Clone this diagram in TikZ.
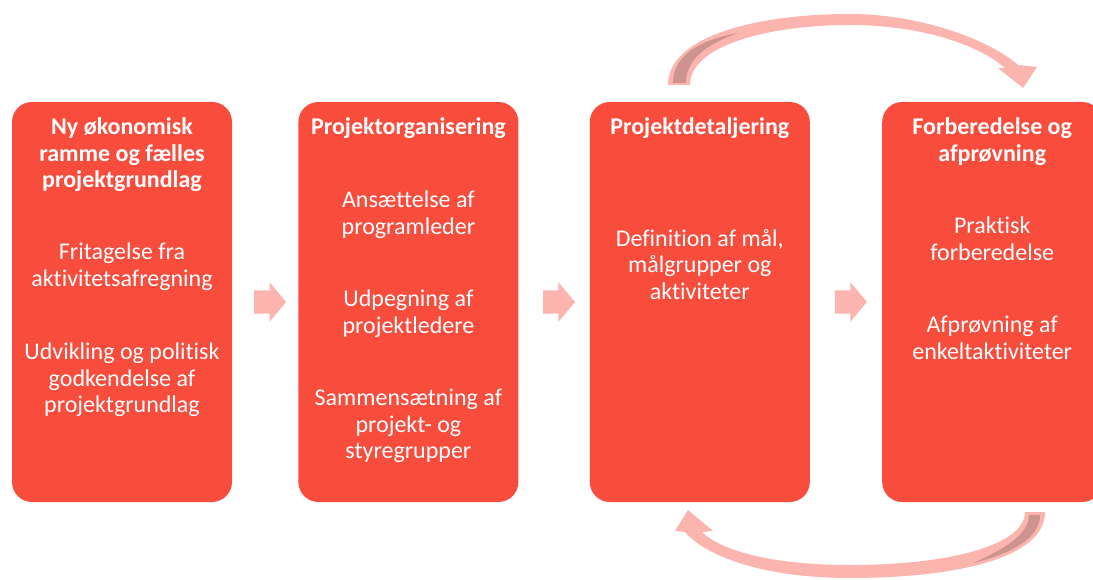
\documentclass[tikz,border=0pt]{standalone}
\usepackage{fontspec}
\setmainfont{Carlito}[Ligatures=NoCommon]
\usepackage{tikz}
\usetikzlibrary{calc,positioning,shapes.arrows}
\definecolor{redx}{HTML}{F84C3D}
\definecolor{pinkx}{HTML}{FBB4AE}
\definecolor{shadex}{HTML}{CD948F}
\tikzset{
  stage/.style={fill=redx,rounded corners=20pt,minimum width=220pt,minimum height=400pt,inner sep=0pt},
  ttl/.style={text=white,font=\bfseries\fontsize{24}{26.5}\selectfont,align=center,inner sep=0pt},
  txt/.style={text=white,font=\fontsize{24}{26.5}\selectfont,align=center,inner sep=0pt},
  blk/.style={single arrow,fill=pinkx,minimum height=32pt,inner xsep=0pt,inner ysep=11.5pt,single arrow head extend=8pt,single arrow tip angle=100}
}

\begin{document}
\begin{tikzpicture}[x=1pt,y=1pt]
\clip (0,0) rectangle (1093,579);
% the four stages
\node[stage] (b1) at (122,277) {};
\node[stage,right=66pt of b1] (b2) {};
\node[stage,right=71pt of b2] (b3) {};
\node[stage,right=72pt of b3] (b4) {};
% texts
\node[ttl,below=16pt of b1.north] (t1) {Ny økonomisk\\ramme og fælles\\projektgrundlag};
\node[txt,below=141pt of b1.north] (p1a) {Fritagelse fra\\aktivitetsafregning};
\node[txt,below=241pt of b1.north] (p1b) {Udvikling og politisk\\godkendelse af\\projektgrundlag};
\node[ttl,below=16pt of b2.north] (t2) {Projektorganisering};
\node[txt,below=89pt of b2.north] (p2a) {Ansættelse af\\programleder};
\node[txt,below=188pt of b2.north] (p2b) {Udpegning af\\projektledere};
\node[txt,below=287pt of b2.north] (p2c) {Sammensætning af\\projekt- og\\styregrupper};
\node[ttl,below=16pt of b3.north] (t3) {Projektdetaljering};
\node[txt,below=127pt of b3.north] (p3a) {Definition af mål,\\målgrupper og\\aktiviteter};
\node[ttl,below=16pt of b4.north] (t4) {Forberedelse og\\afprøvning};
\node[txt,below=115pt of b4.north] (p4a) {Praktisk\\forberedelse};
\node[txt,below=214pt of b4.north] (p4b) {Afprøvning af\\enkeltaktiviteter};
% block arrows between the stages
\node[blk] (a1) at ($(b1.east)!0.5!(b2.west)$) {};
\node[blk] (a2) at ($(b2.east)!0.5!(b3.west)$) {};
\node[blk] (a3) at ($(b3.east)!0.5!(b4.west)$) {};
% curved arrow on top
\fill[pinkx] (668,494) .. controls (668,544) and (760,565) .. (850,565)
  .. controls (920,565) and (990,539) .. (1018,514) -- (1037,512) -- (1023,491)
  -- (998,511) -- (1005,511) .. controls (975,537) and (915,554) .. (850,554)
  .. controls (770,554) and (690,534) .. (690,494) -- cycle;
\fill[shadex] (673,496) .. controls (673,524) and (700,539) .. (738,546)
  .. controls (705,534) and (686,519) .. (686,496) -- cycle;
% curved arrow below
\fill[pinkx] (1025,67) -- (1045,67) .. controls (1045,19) and (950,1) .. (850,1)
  .. controls (760,1) and (705,24) .. (685,47) -- (675,48) -- (688,69)
  -- (713,48) -- (702,47) .. controls (720,29) and (770,14) .. (850,14)
  .. controls (950,14) and (1025,34) .. (1025,67) -- cycle;
\fill[shadex] (1029,64) -- (1040,64) .. controls (1040,40) and (1010,25) .. (973,16)
  .. controls (1005,30) and (1029,45) .. (1029,64) -- cycle;
\end{tikzpicture}
\end{document}
